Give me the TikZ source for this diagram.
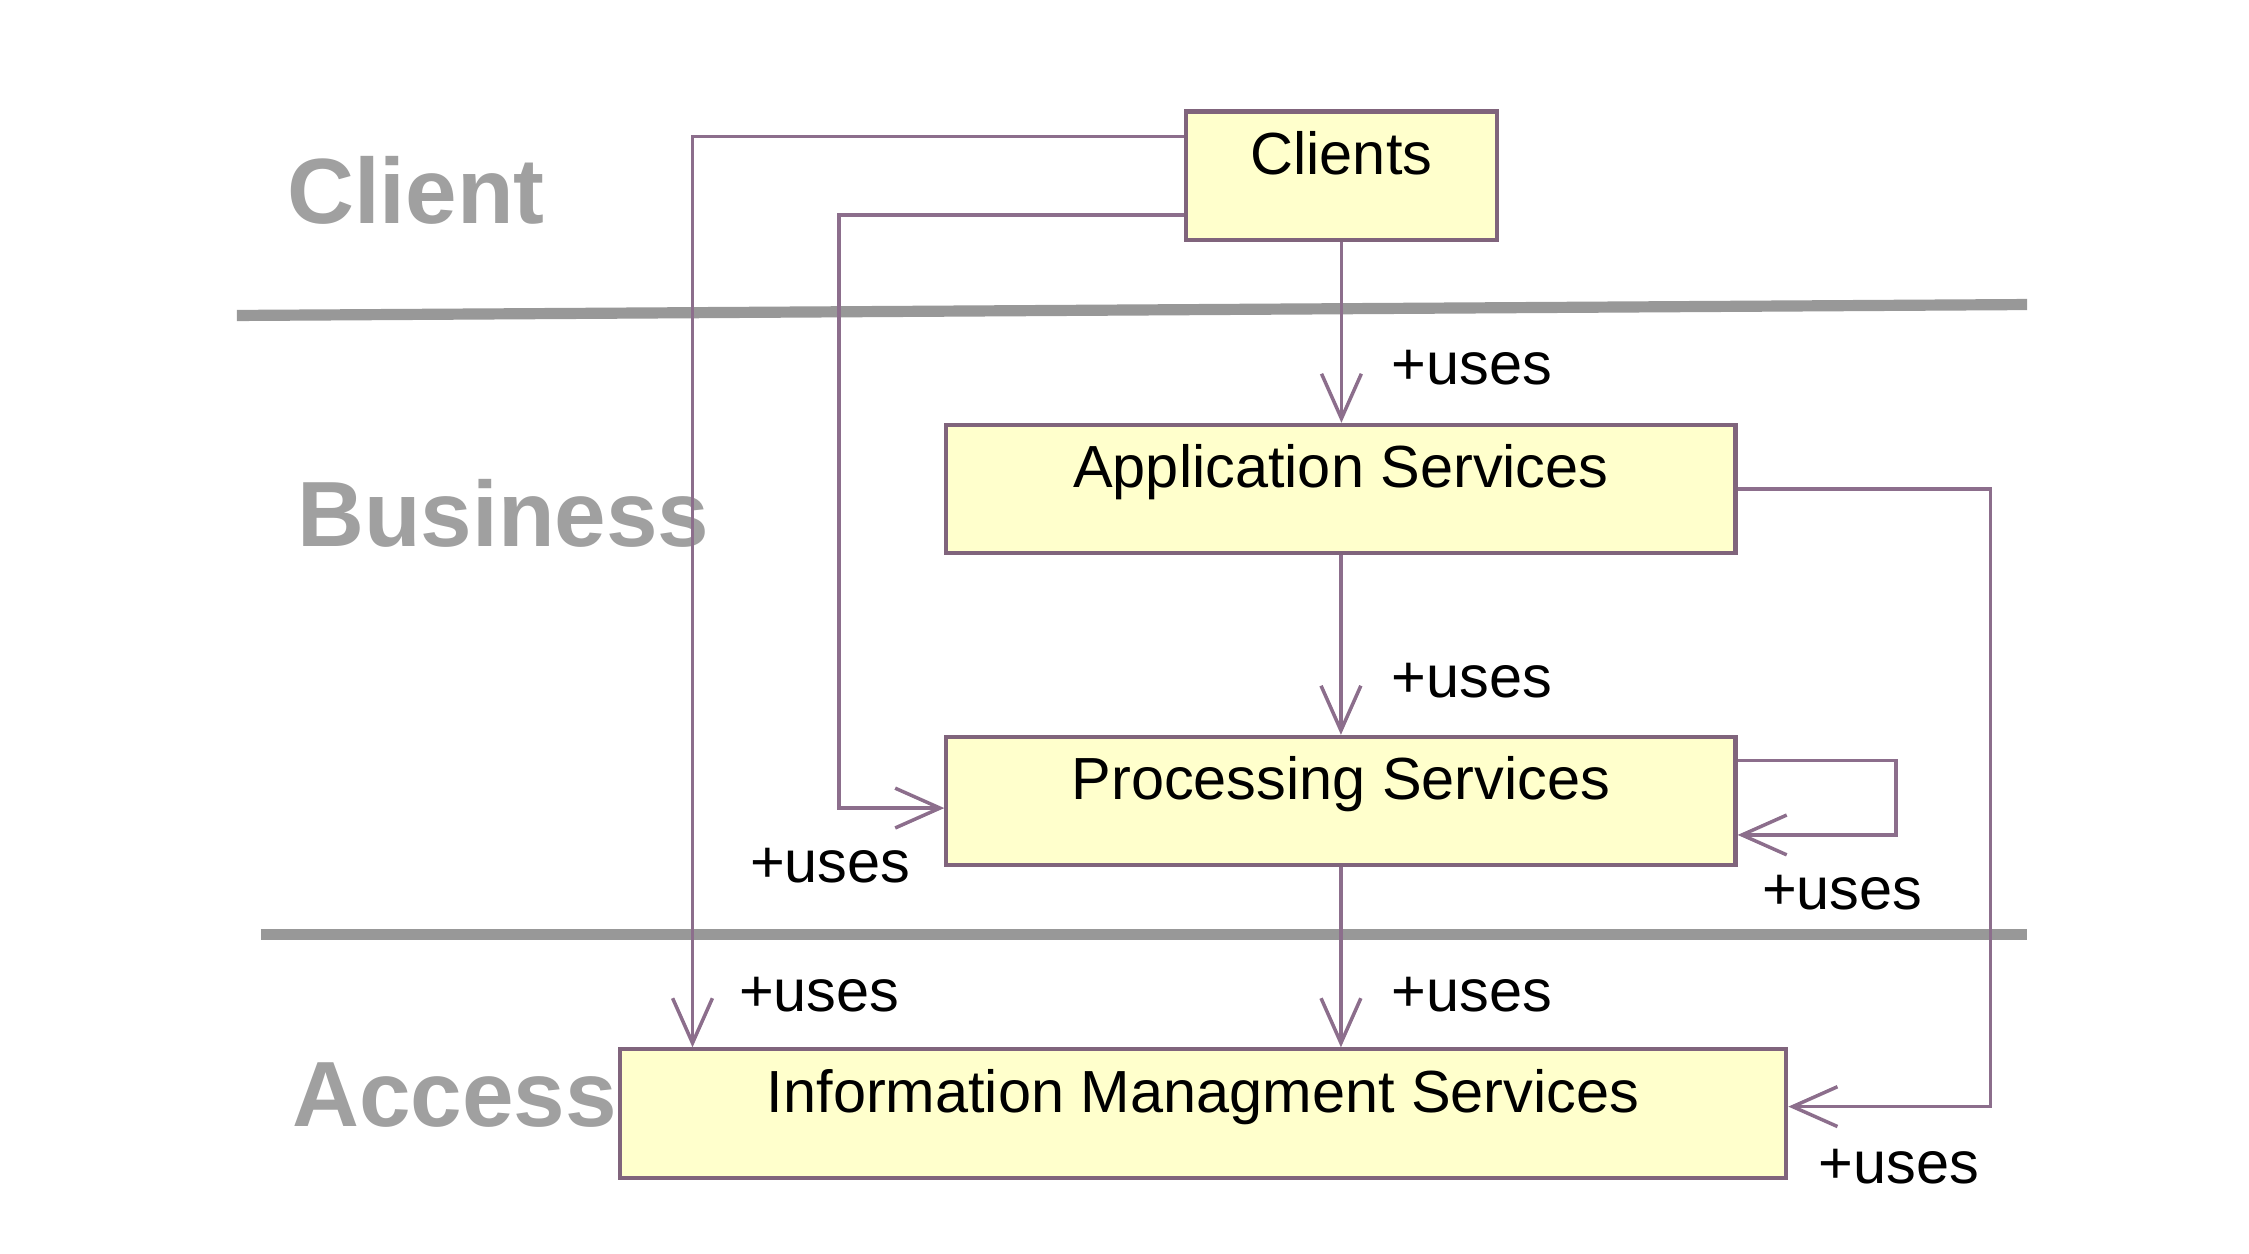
\documentclass[tikz,border=0pt]{standalone}
\usepackage{fontspec}
\setmainfont{Liberation Sans}
\usetikzlibrary{arrows.meta,calc}
\definecolor{boxfill}{RGB}{255,255,204}
\definecolor{boxline}{RGB}{128,100,124}
\definecolor{linkcol}{RGB}{140,110,140}
\definecolor{tiergray}{RGB}{152,152,152}
\definecolor{tiertext}{RGB}{160,160,160}
\tikzset{
	svcbox/.style={draw=boxline, line width=1.2pt, fill=boxfill, inner sep=0pt, minimum height=1.29cm, text height=6.3mm, text depth=6.6mm, font=\fontsize{17}{20}\selectfont},
	usesarrow/.style={draw=linkcol, line width=1pt, -{Straight Barb[length=4.5mm,width=4mm]}},
	useslabel/.style={anchor=base west, inner sep=0pt, font=\fontsize{17}{20}\selectfont},
	tiername/.style={anchor=base west, inner sep=0pt, text=tiertext, font=\fontsize{26.5}{30}\selectfont\bfseries},
	tierline/.style={draw=tiergray, line width=3.2pt},
}

\begin{document}
\begin{tikzpicture}
		%%%%% START %%%%%
		\useasboundingbox[fill=white] (0, 0) rectangle (22.60, -12.60);
		
		% tiers
		\node[tiername] (tclient) at (2.88, -2.25) {Client};
		\node[tiername] (tbusiness) at (2.98, -5.49) {Business};
		\node[tiername] (taccess) at (2.93, -11.32) {Access};
		\draw[tierline] (2.38, -3.17) -- (20.37, -3.06);
		\draw[tierline] (2.62, -9.39) -- (20.37, -9.39);
		
		% services
		\node[svcbox, minimum width=3.12cm] (clients) at (13.48, -1.765) {Clients};
		\node[svcbox, minimum width=7.93cm] (appsvc) at (13.475, -4.915) {Application Services};
		\node[svcbox, minimum width=7.93cm] (procsvc) at (13.475, -8.05) {Processing Services};
		\node[svcbox, minimum width=11.72cm] (infosvc) at (12.09, -11.19) {Information Managment Services};
		
		% uses links
		\draw[usesarrow] (clients.south) -- (clients.south |- appsvc.north);
		\draw[usesarrow] (appsvc.south) -- (appsvc.south |- procsvc.north);
		\draw[usesarrow] (procsvc.south) -- (procsvc.south |- infosvc.north);
		\draw[usesarrow] ([yshift=3.95mm]clients.west) -| ([xshift=7.5mm]infosvc.north west);
		\draw[usesarrow] ([yshift=-3.95mm]clients.west) -- ++(-3.47, 0) |- ([yshift=-0.7mm]procsvc.west);
		\draw[usesarrow] ([yshift=4.1mm]procsvc.east) -- ++(1.59, 0) |- ([yshift=-3.4mm]procsvc.east);
		\draw[usesarrow] (appsvc.east) -- ++(2.54, 0) |- ([yshift=0.7mm]infosvc.east);
		
		\node[useslabel] (u1) at (13.98, -3.86) {+uses};
		\node[useslabel] (u2) at (13.98, -7.01) {+uses};
		\node[useslabel] (u3) at (13.98, -10.16) {+uses};
		\node[useslabel] (u4) at (7.42, -10.16) {+uses};
		\node[useslabel] (u5) at (7.53, -8.87) {+uses};
		\node[useslabel] (u6) at (17.70, -9.14) {+uses};
		\node[useslabel] (u7) at (18.27, -11.89) {+uses};
		
		%%%%% END %%%%%
	\end{tikzpicture}
\end{document}
